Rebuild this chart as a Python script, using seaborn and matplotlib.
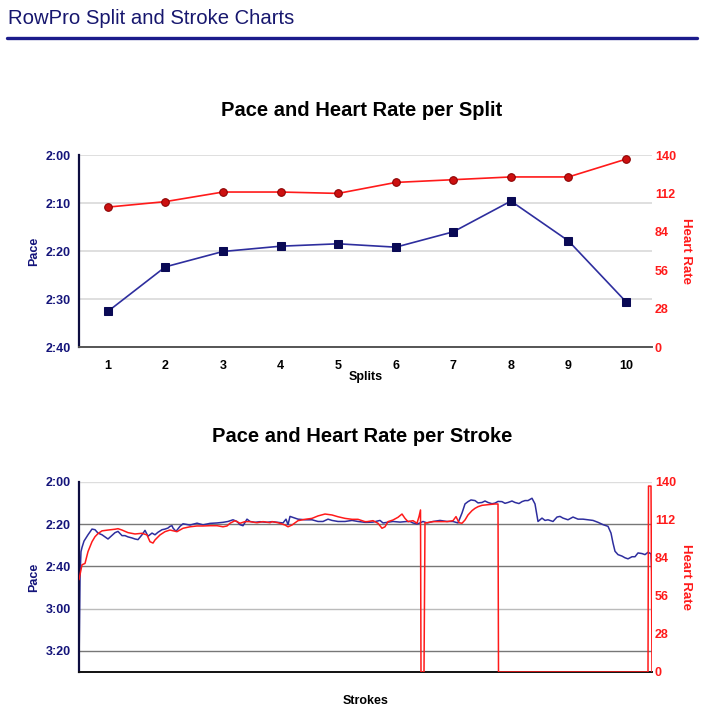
import matplotlib
matplotlib.use('Agg')
import matplotlib.pyplot as plt
from matplotlib.ticker import FuncFormatter, FixedLocator, NullLocator
from matplotlib.lines import Line2D
import seaborn as sns

# --- split data (pace in seconds per 500m, heart rate in bpm) ---
splits = [1, 2, 3, 4, 5, 6, 7, 8, 9, 10]
split_pace = [152.6, 143.3, 140.1, 139.0, 138.5, 139.2, 136.0, 129.6, 137.9, 150.6]
split_hr = [102, 106, 113, 113, 112, 120, 122, 124, 124, 137]

# --- per stroke data (pace = seconds over 2:00) ---
pace_strokes = [0, 1, 2, 3, 5, 9, 13, 16, 19, 23, 26, 29, 32, 36, 39, 43, 46, 49, 53, 56,
                59, 63, 66, 69, 73, 76, 79, 83, 86, 89, 91, 93, 94, 97, 101, 104, 111, 118,
                124, 131, 138, 144, 149, 154, 158, 161, 164, 168, 171, 176, 181, 188, 193,
                199, 204, 207, 209, 211, 216, 219, 226, 233, 239, 244, 249, 253, 259, 266,
                273, 279, 286, 288, 294, 301, 304, 308, 314, 321, 328, 331, 334, 338, 341,
                344, 348, 354, 361, 368, 374, 379, 383, 386, 389, 392, 396, 399, 403, 406,
                409, 413, 416, 419, 423, 426, 429, 433, 436, 440, 443, 446, 449, 453, 456,
                459, 463, 466, 469, 471, 474, 478, 481, 484, 489, 494, 499, 504, 509, 514,
                519, 524, 529, 532, 534, 536, 539, 543, 546, 549, 553, 556, 559, 563, 566,
                569, 572, 573]
pace_offset = [88, 45, 33, 31, 28, 25, 22.3, 22.6, 24.2, 25, 26, 27, 25.7, 24, 23.4, 25.4,
               25.4, 26, 26.5, 27, 27.3, 25, 22.9, 25.7, 24.2, 25, 23.8, 22.6, 22.3, 21.8,
               21, 20.7, 21.8, 23.4, 21, 19.8, 20.4, 19.5, 20.3, 19.6, 19.4, 19.1, 18.7,
               17.9, 18.7, 20.2, 20.7, 17.6, 18.7, 19.1, 18.8, 19.1, 18.8, 19.1, 19.4, 17.6,
               20.2, 16.3, 17.1, 17.6, 17.9, 17.9, 18.7, 18.7, 17.6, 18.2, 18.7, 18.7, 18.2,
               18.7, 19.1, 19.1, 19.0, 18.2, 19.4, 19.1, 18.7, 19.0, 18.7, 18.7, 19.4, 19.9,
               19.4, 18.7, 19.4, 18.7, 18.2, 18.7, 18.7, 19.4, 14.7, 10.4, 9.3, 8.5, 8.8,
               9.9, 9.7, 9.0, 9.7, 10.3, 10.0, 9.2, 9.3, 10.1, 9.7, 9.0, 9.7, 10.2, 9.3,
               8.8, 8.8, 7.7, 10.4, 18.7, 17.1, 18.2, 17.9, 18.2, 18.7, 16.6, 16.3, 17.1,
               17.9, 16.6, 17.6, 17.6, 17.9, 18.2, 19.1, 20.2, 21, 24.2, 28.9, 32.8, 34.4,
               35.1, 35.9, 36.4, 35.4, 35.4, 33.6, 33.9, 34.4, 33.3, 34.0, 44.6]
hr_strokes = [0, 3, 6, 9, 13, 16, 19, 23, 29, 36, 39, 43, 49, 56, 63, 68, 71, 74, 76, 81,
              86, 91, 98, 104, 111, 118, 124, 131, 138, 144, 148, 151, 156, 161, 166, 171,
              178, 184, 191, 193, 199, 206, 209, 213, 219, 226, 233, 239, 246, 253, 259,
              266, 273, 279, 286, 288, 294, 299, 303, 306, 309, 314, 319, 323, 326, 329,
              334, 338, 340, 341.5, 342, 345, 346, 348, 354, 361, 368, 374, 377, 380, 383,
              386, 389, 393, 396, 399, 403, 409, 416, 419, 419.5, 569, 569.5, 572, 573]
hr_values = [68, 79, 80, 88.7, 96, 99.7, 102, 104, 104.6, 105.2, 105.6, 104.6, 102.7, 101.7,
             102.2, 101, 96, 95, 97.3, 101, 103.4, 104.6, 103.4, 105.9, 107, 107.6, 107.6,
             107.8, 107.8, 107, 107.6, 109.6, 111.5, 109.6, 110.8, 110.8, 110, 110.8, 110,
             110.8, 110, 108.3, 107, 108.3, 111.5, 112.5, 113.2, 115, 116.4, 115.7, 114.4,
             113.2, 112.5, 112.5, 110.8, 110.8, 111.5, 109.6, 105.9, 107, 110.8, 112, 114,
             116.4, 113.2, 110.8, 111.5, 109.6, 114.5, 119.4, 0, 0, 110, 110, 110.8, 110.8,
             110.8, 111.5, 114.5, 110, 109.6, 112, 115.7, 118.9, 120.6, 121.8, 122.8, 123.3,
             123.8, 123.8, 0, 0, 137, 137, 0]
stroke_pace = [120 + v for v in pace_offset]

split_pace_ticks = [120, 130, 140, 150, 160]
stroke_pace_ticks = [120, 140, 160, 180, 200]
hr_ticks = [0, 28, 56, 84, 112, 140]

navy = '#14147a'
pace_line = '#2e2e9e'
marker_navy = '#0a0a55'
red = '#ff1a1a'

sns.set_style('white')
plt.rcParams['font.family'] = ['Liberation Sans', 'DejaVu Sans']
plt.rcParams['text.color'] = 'black'
plt.rcParams['axes.labelcolor'] = 'black'

fig = plt.figure(figsize=(7.1, 7.2), dpi=100)


def fmt_pace(v, pos):
    v = int(round(v))
    return f"{v // 60}:{v % 60:02d}"


# header
fig.text(8 / 710, 1 - 19 / 720, 'RowPro Split and Stroke Charts', fontsize=14.6,
         color='#17176e', ha='left', va='center')
fig.add_artist(Line2D([7 / 710, 697 / 710], [1 - 38 / 720, 1 - 38 / 720],
                      color='#1c1c8c', lw=2.4, transform=fig.transFigure))

# ---------- split chart ----------
ax1 = fig.add_axes([79 / 710, 1 - 347 / 720, 573 / 710, 192 / 720])
sns.lineplot(x=splits, y=split_pace, ax=ax1, color=pace_line, lw=1.2,
             marker='s', markersize=5.5, markerfacecolor=marker_navy,
             markeredgecolor=marker_navy, estimator=None)
ax1.set_ylim(160, 120)
ax1.set_xlim(0.5, 10.45)
ax1.yaxis.set_major_locator(FixedLocator(split_pace_ticks))
ax1.yaxis.set_major_formatter(FuncFormatter(fmt_pace))
ax1.set_xticks(splits)
ax1.grid(axis='y', color='#dcdcdc', lw=1.3)
ax1.set_axisbelow(True)
ax1.tick_params(axis='y', length=0, pad=6, labelsize=9, labelcolor=navy)
ax1.tick_params(axis='x', length=0, pad=9, labelsize=9, labelcolor='black')
for lab in ax1.get_xticklabels() + ax1.get_yticklabels():
    lab.set_fontweight('bold')
for s in ['top', 'right']:
    ax1.spines[s].set_visible(False)
ax1.spines['left'].set_color('#0d0d40')
ax1.spines['left'].set_linewidth(1.6)
ax1.spines['bottom'].set_color('#555555')
ax1.spines['bottom'].set_linewidth(1.4)
ax1.set_ylabel('Pace', fontsize=9, fontweight='bold', color=navy)
ax1.yaxis.set_label_coords(-0.068, 0.5)
ax1.set_xlabel('Splits', fontsize=9, fontweight='bold', color='black')
ax1.xaxis.set_label_coords(0.5, -0.125)

ax1r = ax1.twinx()
sns.lineplot(x=splits, y=split_hr, ax=ax1r, color=red, lw=1.2,
             marker='o', markersize=5.5, markerfacecolor='#cc1010',
             markeredgecolor='#8a0000', estimator=None)
ax1r.set_ylim(0, 140)
ax1r.yaxis.set_major_locator(FixedLocator(hr_ticks))
ax1r.tick_params(axis='y', length=0, pad=2, labelsize=9, labelcolor=red)
for lab in ax1r.get_yticklabels():
    lab.set_fontweight('bold')
for s in ax1r.spines.values():
    s.set_visible(False)
ax1r.set_ylabel('Heart Rate', fontsize=9.5, fontweight='bold', color=red, rotation=-90)
ax1r.yaxis.set_label_coords(1.07, 0.5)

fig.text(362 / 710, 1 - 110 / 720, 'Pace and Heart Rate per Split', fontsize=14.5,
         fontweight='bold', ha='center', va='center', color='black')

# ---------- stroke chart ----------
ax2 = fig.add_axes([79 / 710, 1 - 672 / 720, 573 / 710, 190 / 720])
sns.lineplot(x=pace_strokes, y=stroke_pace, ax=ax2, color=pace_line, lw=1.1,
             estimator=None, sort=False)
ax2.set_ylim(210, 120)
ax2.set_xlim(0, 573)
ax2.yaxis.set_major_locator(FixedLocator(stroke_pace_ticks))
ax2.yaxis.set_major_formatter(FuncFormatter(fmt_pace))
ax2.xaxis.set_major_locator(NullLocator())
grid_cols = ['#dddddd', '#777777', '#777777', '#bbbbbb', '#777777']
for t, c in zip(stroke_pace_ticks, grid_cols):
    ax2.axhline(t, color=c, lw=1.0, zorder=0)
ax2.tick_params(axis='y', length=0, pad=6, labelsize=9, labelcolor=navy)
for lab in ax2.get_yticklabels():
    lab.set_fontweight('bold')
for s in ['top', 'right']:
    ax2.spines[s].set_visible(False)
ax2.spines['left'].set_color('#0d0d40')
ax2.spines['left'].set_linewidth(1.6)
ax2.spines['bottom'].set_color('#111111')
ax2.spines['bottom'].set_linewidth(1.4)
ax2.set_ylabel('Pace', fontsize=9, fontweight='bold', color=navy)
ax2.yaxis.set_label_coords(-0.068, 0.5)
ax2.set_xlabel('Strokes', fontsize=9, fontweight='bold', color='black')
ax2.xaxis.set_label_coords(0.5, -0.122)

ax2r = ax2.twinx()
sns.lineplot(x=hr_strokes, y=hr_values, ax=ax2r, color=red, lw=1.1,
             estimator=None, sort=False)
ax2r.set_ylim(0, 140)
ax2r.set_xlim(0, 573)
ax2r.yaxis.set_major_locator(FixedLocator(hr_ticks))
ax2r.tick_params(axis='y', length=0, pad=2, labelsize=9, labelcolor=red)
for lab in ax2r.get_yticklabels():
    lab.set_fontweight('bold')
for s in ax2r.spines.values():
    s.set_visible(False)
ax2r.set_ylabel('Heart Rate', fontsize=9.5, fontweight='bold', color=red, rotation=-90)
ax2r.yaxis.set_label_coords(1.07, 0.5)

fig.text(362 / 710, 1 - 437 / 720, 'Pace and Heart Rate per Stroke', fontsize=14.5,
         fontweight='bold', ha='center', va='center', color='black')

fig.savefig('out.png', dpi=100)
